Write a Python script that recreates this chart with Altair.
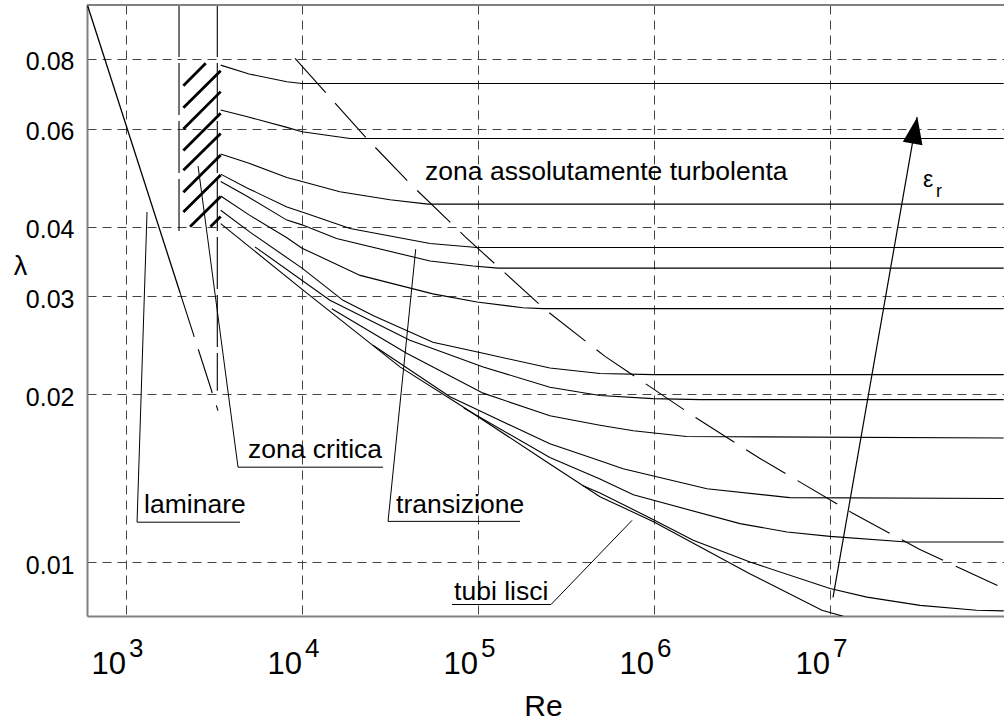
import altair as alt
import pandas as pd

# ---------------- data ----------------
curve_names = ["c1", "c2", "c3", "c4", "c5", "c6", "c7", "c8", "c9", "c10", "c11", "c12", "smooth"]
c1_re = [3450, 5000, 8200, 10000, 9.7e7]
c1_lam = [0.078, 0.0752, 0.0728, 0.0723, 0.0723]
c2_re = [3450, 4900, 8200, 10000, 18750, 9.7e7]
c2_lam = [0.0648, 0.063, 0.0603, 0.0592, 0.0576, 0.0576]
c3_re = [3450, 5000, 8200, 10000, 16400, 31600, 52000, 9.7e7]
c3_lam = [0.054, 0.052, 0.049, 0.0482, 0.0462, 0.0447, 0.0439, 0.0439]
c4_re = [3450, 4900, 8200, 10000, 18750, 53400, 98600, 9.7e7]
c4_lam = [0.0497, 0.0469, 0.0434, 0.0425, 0.0397, 0.0373, 0.0367, 0.0367]
c5_re = [3450, 4900, 8200, 10000, 15700, 53400, 93800, 130000, 9.7e7]
c5_lam = [0.0482, 0.0453, 0.0411, 0.0403, 0.0381, 0.0347, 0.034, 0.0337, 0.0337]
c6_re = [3450, 5000, 8200, 10000, 21400, 55400, 98600, 180000, 234000, 9.7e7]
c6_lam = [0.0454, 0.042, 0.0382, 0.0366, 0.0327, 0.0303, 0.0293, 0.0286, 0.0285, 0.0285]
c7_re = [3450, 5060, 10000, 17100, 25300, 55400, 107000, 256000, 493000, 986000, 9.7e7]
c7_lam = [0.0428, 0.0391, 0.0337, 0.0295, 0.0277, 0.0248, 0.0237, 0.0223, 0.0218, 0.0217, 0.0217]
c8_re = [5400, 14400, 41000, 107000, 256000, 493000, 987000, 1.83e6, 9.7e7]
c8_lam = [0.0368, 0.0295, 0.025, 0.0224, 0.0206, 0.0199, 0.01965, 0.01957, 0.01957]
c9_re = [14750, 39300, 107000, 256000, 493000, 763000, 1.53e6, 9.7e7]
c9_lam = [0.0285, 0.0237, 0.0201, 0.0183, 0.0176, 0.0172, 0.0168, 0.0167]
c10_re = [25300, 69300, 256000, 493000, 667000, 2.0e6, 5.9e6, 9.7e7]
c10_lam = [0.0245, 0.0198, 0.0163, 0.0152, 0.0147, 0.01354, 0.01305, 0.0130]
c11_re = [83000, 256000, 493000, 763000, 3.08e6, 5.7e6, 1.0e7, 2.73e7, 9.7e7]
c11_lam = [0.0189, 0.0154, 0.0141, 0.0132, 0.01172, 0.01132, 0.01112, 0.01086, 0.01086]
c12_re = [395000, 493000, 949000, 1.67e6, 3.51e6, 1.0e7, 1.62e7, 3.25e7, 6.8e7, 9.7e7]
c12_lam = [0.0137, 0.0133, 0.012, 0.01094, 0.01, 0.00896, 0.00865, 0.00836, 0.00819, 0.00817]
smooth_re = [3450, 10100, 36000, 82000, 256000, 493000, 1.0e6, 3.5e6, 9.0e6, 1.19e7]
smooth_lam = [0.0405, 0.0308, 0.0224, 0.019, 0.015, 0.0131, 0.0118, 0.00953, 0.00819, 0.00799]

# boundary of fully rough zone (dashed curve)
rough_re = [9124, 23300, 41080, 84300, 240300, 526800, 1.71e6, 3.96e6, 1.339e7, 3.217e7, 9.74e7]
rough_lam = [0.0802, 0.0576, 0.0478, 0.0384, 0.0284, 0.0234, 0.0182, 0.01537, 0.01225, 0.01054, 0.00896]

# laminar line (solid) and its dashed extension
lam_solid_re = [603, 2030]
lam_solid_lam = [0.1, 0.0304]
lam_dash_re = [2030, 3330]
lam_dash_lam = [0.0304, 0.0187]

# critical zone boundaries (long-dashed verticals)
crit_re = [2000, 3300]
crit_top = [0.1, 0.1]
crit_bottom = [0.039, 0.0203]

# hatching of critical zone
hatch_re1 = [2117, 2117, 2117, 2117, 2117, 2117, 2117, 2310, 3017]
hatch_lam1 = [0.0716, 0.0654, 0.0599, 0.0548, 0.0505, 0.0461, 0.0425, 0.0400, 0.0400]
hatch_re2 = [2837, 3450, 3450, 3450, 3450, 3450, 3450, 3450, 3450]
hatch_lam2 = [0.0786, 0.0762, 0.0699, 0.0639, 0.0588, 0.0538, 0.0495, 0.0453, 0.0417]

# leader lines of the labels
lead_re1 = [1155, 1155, 4328, 4328, 30810, 30810, 71170, 259900]
lead_lam1 = [0.01179, 0.01179, 0.0148, 0.0148, 0.01183, 0.01183, 0.00839, 0.00839]
lead_re2 = [4443, 1316, 28860, 2566, 173200, 44260, 259900, 750000]
lead_lam2 = [0.01179, 0.0425, 0.0148, 0.0514, 0.01183, 0.03645, 0.00839, 0.01188]

# labels
label_text = ["laminare", "zona critica", "transizione", "tubi lisci", "zona assolutamente turbolenta"]
label_re = [1266, 4934, 34200, 73060, 50030]
label_lam = [0.01224, 0.01536, 0.01224, 0.00853, 0.0485]

# epsilon_r arrow
arrow_re = [1.04e7, 3.12e7]
arrow_lam = [0.00864, 0.0629]
arrowhead_re = [3.04e7]
arrowhead_lam = [0.0596]
eps_re = [3.37e7]
eps_lam = [0.0471]
sub_re = [4.0e7]
sub_lam = [0.0452]

# axis ticks
x_ticks = [1e3, 1e4, 1e5, 1e6, 1e7]
x_exps = ["3", "4", "5", "6", "7"]
y_ticks = [0.01, 0.02, 0.03, 0.04, 0.06, 0.08]

# ---------------- tables ----------------
re_lists = [c1_re, c2_re, c3_re, c4_re, c5_re, c6_re, c7_re, c8_re, c9_re, c10_re, c11_re, c12_re, smooth_re]
lam_lists = [c1_lam, c2_lam, c3_lam, c4_lam, c5_lam, c6_lam, c7_lam, c8_lam, c9_lam, c10_lam, c11_lam, c12_lam, smooth_lam]
rows = []
for name, rs, ls in zip(curve_names, re_lists, lam_lists):
    for i, (r, l) in enumerate(zip(rs, ls)):
        rows.append({"curve": name, "i": i, "Re": r, "lam": l})
curves_df = pd.DataFrame(rows)

rough_df = pd.DataFrame({"Re": rough_re, "lam": rough_lam, "i": range(len(rough_re))})
lam_solid_df = pd.DataFrame({"Re": [lam_solid_re[0]], "lam": [lam_solid_lam[0]],
                             "Re2": [lam_solid_re[1]], "lam2": [lam_solid_lam[1]]})
lam_dash_df = pd.DataFrame({"Re": [lam_dash_re[0]], "lam": [lam_dash_lam[0]],
                            "Re2": [lam_dash_re[1]], "lam2": [lam_dash_lam[1]]})
crit_df = pd.DataFrame({"Re": crit_re, "lam": crit_top, "Re2": crit_re, "lam2": crit_bottom})
hatch_df = pd.DataFrame({"Re": hatch_re1, "lam": hatch_lam1, "Re2": hatch_re2, "lam2": hatch_lam2})
lead_df = pd.DataFrame({"Re": lead_re1, "lam": lead_lam1, "Re2": lead_re2, "lam2": lead_lam2})
label_df = pd.DataFrame({"Re": label_re, "lam": label_lam, "t": label_text})
arrow_df = pd.DataFrame({"Re": [arrow_re[0]], "lam": [arrow_lam[0]], "Re2": [arrow_re[1]], "lam2": [arrow_lam[1]]})
head_df = pd.DataFrame({"Re": arrowhead_re, "lam": arrowhead_lam})
eps_df = pd.DataFrame({"Re": eps_re, "lam": eps_lam, "t": ["ε"]})
sub_df = pd.DataFrame({"Re": sub_re, "lam": sub_lam, "t": ["r"]})
xt_df = pd.DataFrame({"Re": x_ticks, "e": x_exps, "b": ["10"] * len(x_ticks)})

# ---------------- encodings ----------------
FONT = "Liberation Sans"
GRID = "#444444"
xs = alt.Scale(type="log", domain=[600, 9.74e7], nice=False)
ys = alt.Scale(type="log", domain=[0.008, 0.1], nice=False)
xaxis = alt.Axis(values=x_ticks, labels=False, ticks=False, tickSize=0, grid=True,
                 gridDash=[9, 6], gridColor=GRID, gridWidth=1, domainColor="#808080",
                 domainWidth=2, titleFontSize=30, titleFont=FONT, titleFontWeight="normal",
                 titleColor="black", titleX=456, titleY=99, titleBaseline="alphabetic",
                 titleAlign="center")
yaxis = alt.Axis(values=y_ticks, format=".2f", labelFontSize=25, labelFont=FONT,
                 labelColor="black", labelPadding=13, labelOffset=3, labelOverlap=False,
                 ticks=False, tickSize=0, grid=True, gridDash=[9, 6], gridColor=GRID,
                 gridWidth=1, domainColor="#808080", domainWidth=2, titleAngle=0,
                 titleFontSize=27, titleFont=FONT, titleFontWeight="normal", titleColor="black",
                 titleX=-67, titleY=269, titleAlign="center", titleBaseline="alphabetic")
X = alt.X("Re:Q", scale=xs, axis=xaxis, title="Re")
Y = alt.Y("lam:Q", scale=ys, axis=yaxis, title="λ")

curves = alt.Chart(curves_df).mark_line(color="black", strokeWidth=1.1, clip=True).encode(
    x=X, y=Y, detail="curve:N", order="i:Q")

rough = alt.Chart(rough_df).mark_line(color="black", strokeWidth=1.1, strokeDash=[46, 14], clip=True).encode(
    x=X, y=Y, order="i:Q")

lam_solid = alt.Chart(lam_solid_df).mark_rule(color="black", strokeWidth=1.3).encode(
    x=X, y=Y, x2="Re2:Q", y2="lam2:Q")
lam_dash = alt.Chart(lam_dash_df).mark_rule(color="black", strokeWidth=1.1, strokeDash=[46, 13]).encode(
    x=X, y=Y, x2="Re2:Q", y2="lam2:Q")
crit = alt.Chart(crit_df).mark_rule(color="black", strokeWidth=1.1, strokeDash=[52, 6]).encode(
    x=X, y=Y, x2="Re2:Q", y2="lam2:Q")
hatch = alt.Chart(hatch_df).mark_rule(color="black", strokeWidth=2.8).encode(
    x=X, y=Y, x2="Re2:Q", y2="lam2:Q")
leads = alt.Chart(lead_df).mark_rule(color="black", strokeWidth=1).encode(
    x=X, y=Y, x2="Re2:Q", y2="lam2:Q")
labels = alt.Chart(label_df).mark_text(align="left", baseline="alphabetic", fontSize=26.5,
                                       font=FONT, color="black").encode(x=X, y=Y, text="t:N")
arrow = alt.Chart(arrow_df).mark_rule(color="black", strokeWidth=1.2).encode(
    x=X, y=Y, x2="Re2:Q", y2="lam2:Q")
head = alt.Chart(head_df).mark_point(shape="M0,-1L-0.74,1L0.74,1Z", filled=True, color="black",
                                     opacity=1, size=729, angle=10, strokeWidth=0).encode(x=X, y=Y)
eps = alt.Chart(eps_df).mark_text(align="left", baseline="alphabetic", fontSize=23, font=FONT,
                                  color="black").encode(x=X, y=Y, text="t:N")
sub = alt.Chart(sub_df).mark_text(align="left", baseline="alphabetic", fontSize=18, font=FONT,
                                  color="black").encode(x=X, y=Y, text="t:N")
top_border = alt.Chart(xt_df).mark_rule(color="#808080", strokeWidth=2).encode(
    x=alt.value(0), x2=alt.value(917), y=alt.value(0))
tick_base = alt.Chart(xt_df).mark_text(align="right", baseline="alphabetic", fontSize=31,
                                       font=FONT, color="black").encode(
    x=X, y=alt.value(669), text="b:N")
tick_exp = alt.Chart(xt_df).mark_text(align="left", baseline="alphabetic", fontSize=26,
                                      font=FONT, color="black", dx=3).encode(
    x=X, y=alt.value(652), text="e:N")

chart = alt.layer(
    curves, rough, lam_solid, lam_dash, crit, hatch, leads, labels, arrow, head, eps, sub,
    top_border, tick_base, tick_exp
).properties(
    width=917, height=611,
    autosize=alt.AutoSizeParams(type="none"),
    padding={"left": 87, "top": 5, "right": 0, "bottom": 104},
    background="white",
).configure_view(stroke=None)

chart.save("out.html", embed_options={"renderer": "svg", "actions": False})
